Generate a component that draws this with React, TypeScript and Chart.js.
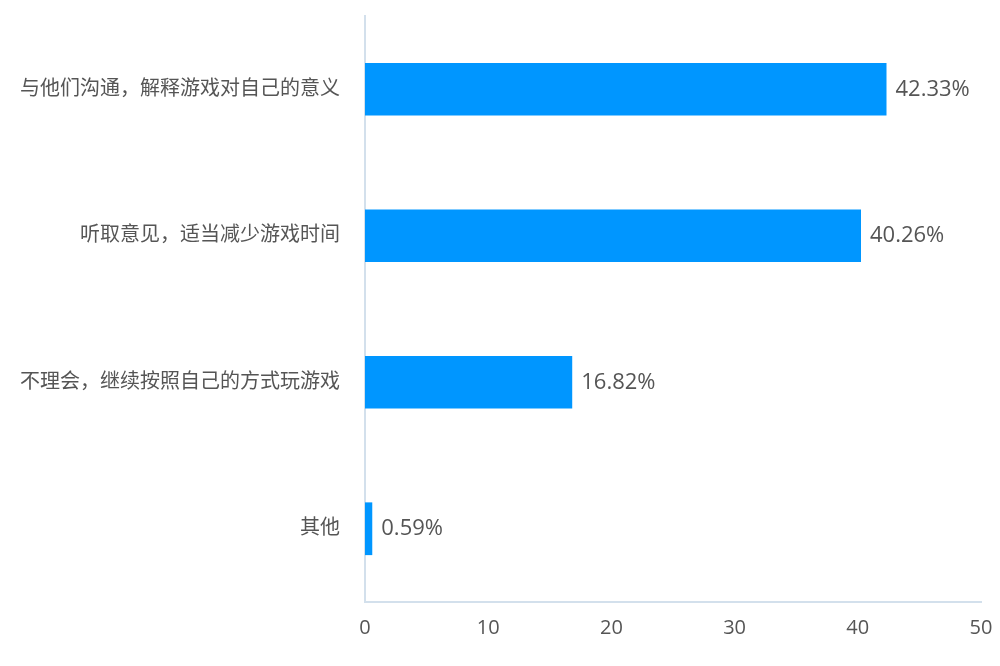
import React, { useEffect, useRef } from "react";
import { Chart, registerables } from "chart.js";

Chart.register(...registerables);

const categories = [
  "与他们沟通，解释游戏对自己的意义",
  "听取意见，适当减少游戏时间",
  "不理会，继续按照自己的方式玩游戏",
  "其他",
];
const values = [42.33, 40.26, 16.82, 0.59];
const xTicks = [0, 10, 20, 30, 40, 50];

const FONT = "'Open Sans', 'Noto Sans CJK SC', sans-serif";

const valueLabels = {
  id: "valueLabels",
  afterDatasetsDraw(chart: any) {
    const ctx = chart.ctx;
    const meta = chart.getDatasetMeta(0);
    ctx.save();
    ctx.font = `22px ${FONT}`;
    ctx.fillStyle = "#555555";
    ctx.textAlign = "left";
    ctx.textBaseline = "middle";
    meta.data.forEach((bar: any, i: number) => {
      ctx.fillText(values[i].toFixed(2) + "%", bar.x + 9, bar.y);
    });
    ctx.restore();
  },
};

export default function App() {
  const ref = useRef<HTMLCanvasElement | null>(null);
  useEffect(() => {
    if (!ref.current) return;
    const chart = new Chart(ref.current, {
      type: "bar",
      data: {
        labels: categories,
        datasets: [
          {
            data: values,
            backgroundColor: "#0096FF",
            barPercentage: 0.6,
            categoryPercentage: 0.6,
          },
        ],
      },
      options: {
        indexAxis: "y",
        animation: false,
        responsive: false,
        maintainAspectRatio: false,
        layout: { padding: { top: 16, right: 19, left: 0, bottom: 0 } },
        plugins: { legend: { display: false }, tooltip: { enabled: false } },
        scales: {
          x: {
            min: 0,
            max: 50,
            afterBuildTicks: (scale: any) => {
              scale.ticks = xTicks.map((v) => ({ value: v }));
            },
            afterFit: (scale: any) => {
              scale.height = 64;
              scale.paddingLeft = 0;
              scale.paddingRight = 0;
              scale.paddingTop = 0;
              scale.paddingBottom = 0;
            },
            grid: { display: false, drawTicks: false },
            border: { display: true, color: "#d3e0ec", width: 2 },
            ticks: {
              color: "#555555",
              font: { size: 20, family: FONT },
              padding: 14,
              maxRotation: 0,
            },
          },
          y: {
            afterFit: (scale: any) => {
              scale.width = 365;
              scale.paddingLeft = 0;
              scale.paddingRight = 0;
              scale.paddingTop = 0;
              scale.paddingBottom = 0;
            },
            grid: { display: false, drawTicks: false },
            border: { display: true, color: "#d3e0ec", width: 2 },
            ticks: {
              color: "#555555",
              font: { size: 20, family: FONT },
              padding: 25,
            },
          },
        },
      },
      plugins: [valueLabels],
    });
    return () => chart.destroy();
  }, []);
  return (
    <div style={{ position: "absolute", left: 0, top: 0, width: 1000, height: 666, background: "#fff" }}>
      <canvas ref={ref} width={1000} height={666} style={{ width: 1000, height: 666 }} />
    </div>
  );
}
